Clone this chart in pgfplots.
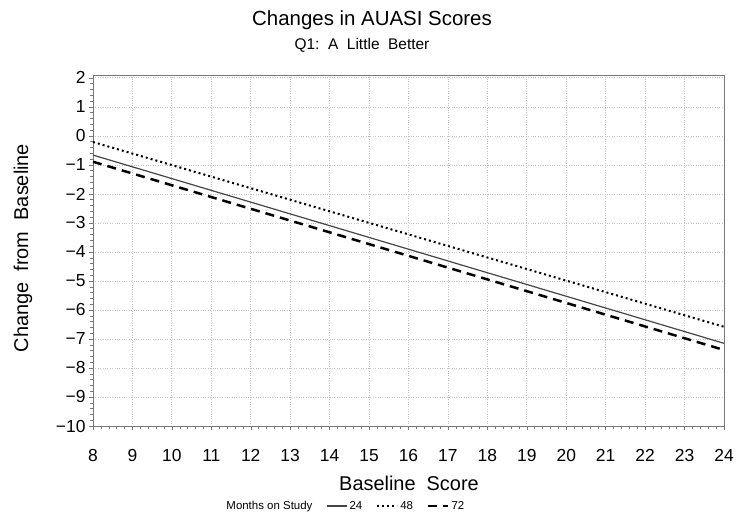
\documentclass[border=0pt]{standalone}
\usepackage{fontspec}
\setmainfont{Liberation Sans}
\usepackage{pgfplots}
\pgfplotsset{compat=1.18}
\definecolor{gridc}{RGB}{195,195,195}
\definecolor{axc}{RGB}{120,120,120}
\definecolor{solidc}{RGB}{70,70,70}
\begin{document}
\begin{tikzpicture}[x=1bp,y=1bp]
\useasboundingbox (-93bp,-104bp) rectangle (657bp,426bp);
\begin{axis}[
  at={(0bp,0bp)}, anchor=south west,
  scale only axis,
  width=631bp, height=351bp,
  xmin=8, xmax=24, ymin=-10, ymax=2.1,
  xtick={8,...,24},
  ytick={-10,...,2},
  yticklabels={−10,−9,−8,−7,−6,−5,−4,−3,−2,−1,0,1,2},
  minor x tick num=4,
  minor y tick num=4,
  tick pos=left,
  tick align=outside,
  major tick length=4bp,
  minor tick length=2.5bp,
  tick style={axc, line width=0.5bp},
  axis line style={axc, line width=0.8bp},
  grid=major,
  major grid style={gridc, dotted, line width=0.8bp},
  /pgf/number format/assume math mode=true,
  ticklabel style={font=\fontsize{17.5}{18}\selectfont},
  xticklabel style={anchor=base, yshift=-31bp},
  yticklabel style={anchor=east, xshift=-0bp},
  legend columns=-1,
  legend style={draw=none, fill=none, at={(axis description cs:0.4,0)}, anchor=center, yshift=-80bp,
    font=\fontsize{11.5}{12}\selectfont, inner sep=0pt,
    /tikz/every even column/.append style={column sep=12bp}},
  legend image code/.code={\draw[#1] (0bp,0bp) -- (20bp,0bp);},
  clip=false,
]
\addlegendimage{empty legend}
\addlegendentry{Months on Study}
\addplot[solidc, line width=1.2bp] coordinates {(8,-0.66) (24,-7.15)};
\addlegendentry{24}
\addplot[black, line width=2bp, dash pattern=on 2bp off 3bp] coordinates {(8,-0.21) (24,-6.58)};
\addlegendentry{48}
\addplot[black, line width=2.5bp, dash pattern=on 9bp off 6bp] coordinates {(8,-0.89) (24,-7.38)};
\addlegendentry{72}
\end{axis}
\node[anchor=base, font=\fontsize{20.5}{21}\selectfont] at (279bp,400bp) {Changes in AUASI Scores};
\node[anchor=base, font=\fontsize{15.5}{16}\selectfont] at (269bp,376bp) {Q1:\ \ A\ \ Little\ \ Better};
\node[rotate=90, font=\fontsize{20}{20}\selectfont] at (-70bp,178bp) {Change\ \ from\ \ Baseline};
\node[anchor=base, font=\fontsize{20}{20}\selectfont] at (316bp,-64bp) {Baseline\ \ Score};
\end{tikzpicture}
\end{document}
